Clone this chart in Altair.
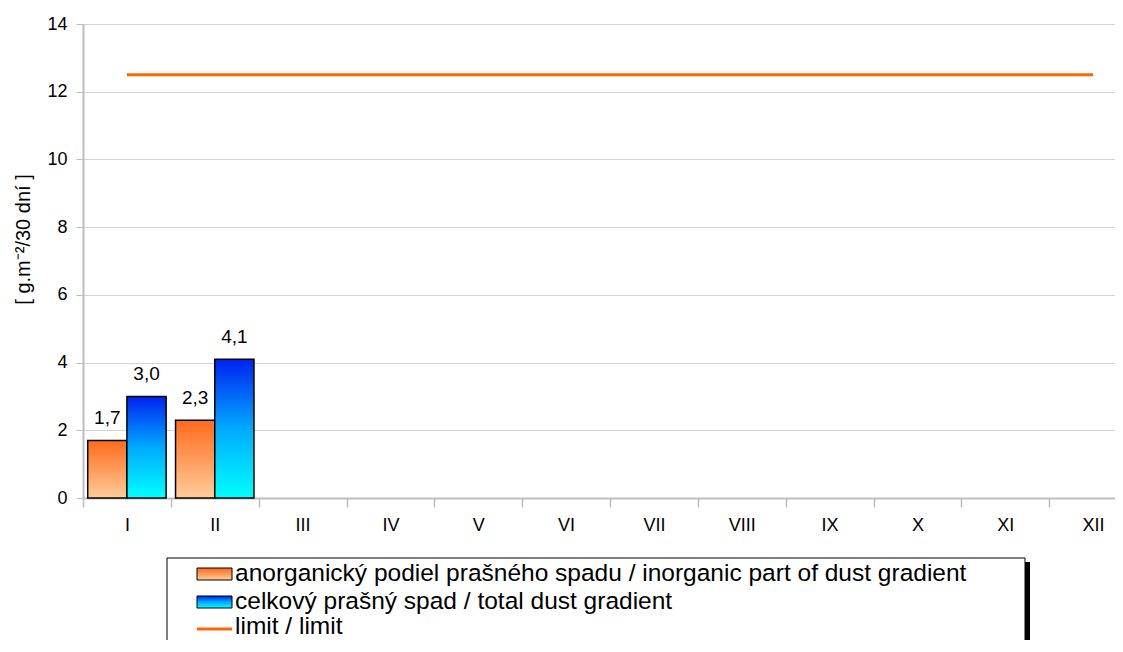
import altair as alt
import pandas as pd

months = ["I", "II", "III", "IV", "V", "VI", "VII", "VIII", "IX", "X", "XI", "XII"]
inorganic = [1.7, 2.3]          # anorganický podiel (months I, II)
total = [3.0, 4.1]              # celkový prašný spad (months I, II)
limit = [12.5, 12.5, 12.5, 12.5, 12.5, 12.5, 12.5, 12.5, 12.5, 12.5, 12.5, 12.5]
y_ticks = [0, 2, 4, 6, 8, 10, 12, 14]
legend_labels = [
    "anorganický podiel prašného spadu / inorganic part of dust gradient",
    "celkový prašný spad / total dust gradient",
    "limit / limit",
]

FONT = "Liberation Sans"

bars = pd.DataFrame(
    [{"month": months[i], "series": "a", "value": v} for i, v in enumerate(inorganic)]
    + [{"month": months[i], "series": "b", "value": v} for i, v in enumerate(total)]
)
lim = pd.DataFrame({"month": months, "value": limit})

orange_grad = alt.Gradient(
    gradient="linear", x1=0, y1=0, x2=0, y2=1,
    stops=[alt.GradientStop(color="#FF6A1C", offset=0),
           alt.GradientStop(color="#FFCC99", offset=1)],
)
blue_grad = alt.Gradient(
    gradient="linear", x1=0, y1=0, x2=0, y2=1,
    stops=[alt.GradientStop(color="#0022F0", offset=0),
           alt.GradientStop(color="#00AAFF", offset=0.5),
           alt.GradientStop(color="#00FFFF", offset=1)],
)

x_enc = alt.X(
    "month:N", sort=months,
    scale=alt.Scale(domain=months, range=[0, 1054], paddingInner=0, paddingOuter=0),
    axis=alt.Axis(
        title=None, labelAngle=0, labelFont=FONT, labelFontSize=18, labelColor="black",
        labelPadding=9, tickBand="extent", tickSize=9, tickOffset=0,
        domainColor="#BDBDBD", domainWidth=2, tickColor="#BDBDBD", tickWidth=1.5,
        grid=False,
    ),
)
y_enc = alt.Y(
    "value:Q",
    scale=alt.Scale(domain=[0, 14], nice=False, zero=True),
    axis=alt.Axis(
        values=y_ticks, title="[ g.m⁻²/30 dní ]", titleFont=FONT, titleFontSize=20,
        titleFontWeight="normal", titleColor="black", titleX=-50, titleY=215,
        titleBaseline="bottom", titleAlign="center", titleAngle=270,
        labelFont=FONT, labelFontSize=18, labelColor="black", labelPadding=9,
        tickSize=7, tickColor="#BDBDBD", domainColor="#BDBDBD", domainWidth=2,
        gridColor="#D4D4D4", gridWidth=1,
    ),
)
xoff = alt.XOffset("series:N", scale=alt.Scale(domain=["a", "b"], paddingInner=0, paddingOuter=0.12))

bar_a = alt.Chart(bars).transform_filter("datum.series == 'a'").mark_bar(
    color=orange_grad, stroke="black", strokeWidth=1.5
).encode(x=x_enc, xOffset=xoff, y=y_enc)
bar_b = alt.Chart(bars).transform_filter("datum.series == 'b'").mark_bar(
    color=blue_grad, stroke="black", strokeWidth=1.5
).encode(x=x_enc, xOffset=xoff, y=y_enc)

labels = alt.Chart(bars).transform_calculate(
    lab="replace(format(datum.value, '.1f'), '.', ',')"
).mark_text(font=FONT, fontSize=19, color="black", baseline="middle", dy=-22).encode(
    x=x_enc, xOffset=xoff, y=y_enc, text="lab:N"
)

line = alt.Chart(lim).mark_line(color="#FF6600", strokeWidth=3).encode(x=x_enc, y=y_enc)

one = pd.DataFrame({"k": [0]})
# legend box (shadow + box)
leg_shadow = alt.Chart(one).mark_rect(fill="black").encode(
    x=alt.value(89), x2=alt.value(947), y=alt.value(538), y2=alt.value(700))
leg_box = alt.Chart(one).mark_rect(fill="white", stroke="black", strokeWidth=1).encode(
    x=alt.value(84), x2=alt.value(942), y=alt.value(534), y2=alt.value(700))
sw1 = alt.Chart(one).mark_rect(color=orange_grad, stroke="black", strokeWidth=1).encode(
    x=alt.value(114), x2=alt.value(149), y=alt.value(544), y2=alt.value(556))
sw2 = alt.Chart(one).mark_rect(color=blue_grad, stroke="black", strokeWidth=1).encode(
    x=alt.value(114), x2=alt.value(149), y=alt.value(572), y2=alt.value(584))
sw3 = alt.Chart(one).mark_rule(color="#FF6600", strokeWidth=3).encode(
    x=alt.value(114), x2=alt.value(149), y=alt.value(605))
t1 = alt.Chart(one).mark_text(text=legend_labels[0], font=FONT, fontSize=24.5, align="left",
                              baseline="middle", color="black").encode(x=alt.value(152), y=alt.value(550))
t2 = alt.Chart(one).mark_text(text=legend_labels[1], font=FONT, fontSize=24.5, align="left",
                              baseline="middle", color="black").encode(x=alt.value(152), y=alt.value(578))
t3 = alt.Chart(one).mark_text(text=legend_labels[2], font=FONT, fontSize=24.5, align="left",
                              baseline="middle", color="black").encode(x=alt.value(152), y=alt.value(603))

chart = alt.layer(
    bar_a, bar_b, labels, line, leg_shadow, leg_box, sw1, sw2, sw3, t1, t2, t3
).properties(
    width=1032, height=474,
    padding={"left": 75, "top": 16, "right": 0, "bottom": 142},
    autosize=alt.AutoSizeParams(type="none"),
).configure_view(strokeWidth=0).configure(background="white")

chart.save("out.html", embed_options={"renderer": "svg", "actions": False})
